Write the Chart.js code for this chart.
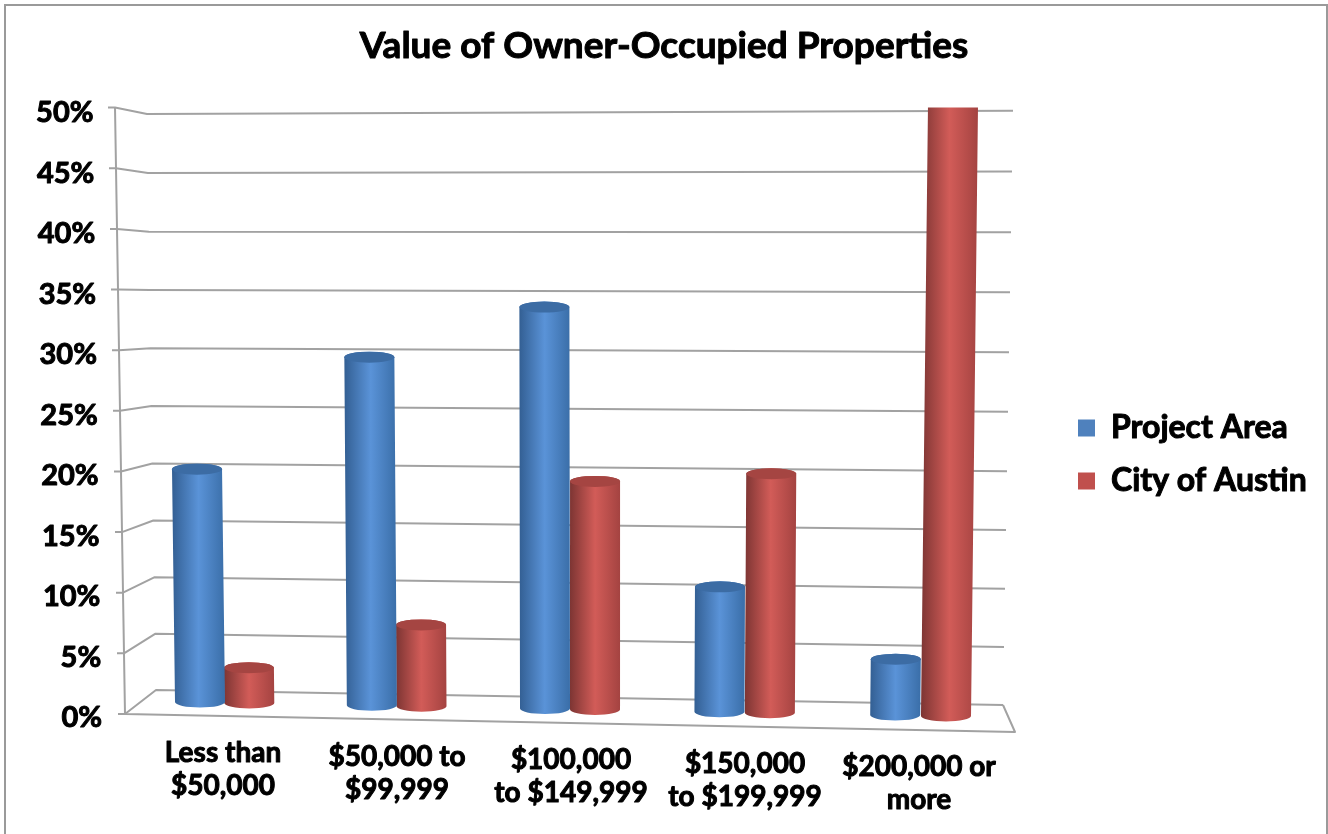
<!DOCTYPE html>
<html><head><meta charset="utf-8">
<style>html,body{margin:0;padding:0;background:#fff;overflow:hidden}canvas{display:block}</style>
<script src="https://cdn.jsdelivr.net/npm/chart.js@4"></script>
</head><body><div style="width:1328px;height:834px"><canvas id="c" width="1328" height="834"></canvas></div>
<script>
const categories = [["Less than","$50,000"],["$50,000 to","$99,999"],["$100,000","to $149,999"],["$150,000","to $199,999"],["$200,000 or","more"]];
const projectArea = [19.2,28.7,33.1,10.3,4.6];
const cityOfAustin = [2.9,6.7,18.8,19.7,50];
const seriesNames = ["Project Area","City of Austin"];
const titleText = "Value of Owner-Occupied Properties";
const FONT = "Lato";

// perspective helpers (all applied on top of the library's scale pixels)
const floorShift = x => (x-840)*0.0187;
const lean = x => -0.0128 + (x-200)*0.0243/745;
const barWarp = x => { const u=(x-200)/745; return -12*u*(1-u); };
let plotArea = null;

const shades = {
  "#4f81bd":["#335f93","#5a93d8","#3a6ea8","#3c6ca4"],
  "#c0504d":["#7d3533","#d25c58","#a44341","#a54542"]
};
const origDraw = Chart.BarElement.prototype.draw;
Chart.BarElement.prototype.draw = function(ctx){
  const col = this.options.backgroundColor;
  const s = shades[col];
  if(!s) return origDraw.call(this,ctx);
  const area = plotArea;
  const w = this.width, ry = 5.5;
  const sh = floorShift(this.x), k = lean(this.x);
  const by = this.base+sh, ty = this.y+sh;
  const bx = this.x-w/2+2+barWarp(this.x), tx = bx+k*(by-ty);
  const atTop = this.y<=area.top+0.5;
  ctx.save();
  ctx.beginPath();ctx.rect(0,area.top,ctx.canvas.width,ctx.canvas.height);ctx.clip();
  const g = ctx.createLinearGradient(Math.min(bx,tx),0,Math.max(bx,tx)+w,0);
  g.addColorStop(0,s[0]);g.addColorStop(0.5,s[1]);g.addColorStop(1,s[2]);
  ctx.fillStyle=g;
  ctx.beginPath();
  ctx.moveTo(tx,ty);
  ctx.lineTo(bx,by);
  ctx.ellipse(bx+w/2,by,w/2,ry,0,Math.PI,0,true);
  ctx.lineTo(tx+w,ty);
  if(atTop){ctx.lineTo(tx+w,area.top-8);ctx.lineTo(tx,area.top-8);}
  else ctx.ellipse(tx+w/2,ty,w/2,ry,0,0,Math.PI,true);
  ctx.closePath();ctx.fill();
  if(!atTop){
    ctx.fillStyle=s[3];
    ctx.beginPath();ctx.ellipse(tx+w/2,ty,w/2,ry,0,0,Math.PI*2);ctx.fill();
  }
  ctx.restore();
};

// heavier glyphs: every label is filled, then outlined in black
const canvas = document.getElementById('c');
const ctx2d = canvas.getContext('2d');
const fillTextOrig = ctx2d.fillText;
ctx2d.fillText = function(t,x,y,m){
  if(m===undefined) fillTextOrig.call(this,t,x,y); else fillTextOrig.call(this,t,x,y,m);
  this.save();this.lineWidth=1;this.lineJoin='round';this.strokeStyle='#000';
  if(m===undefined) this.strokeText(t,x,y); else this.strokeText(t,x,y,m);
  this.restore();
};

const perspective = {
  id:'perspective',
  beforeLayout(chart){
    const lg = chart.legend;
    if(lg && !lg._wrapped){
      const f = lg.fit;
      lg.fit = function(){f.call(this);this.width=1328-1006;};
      lg._wrapped = true;
    }
  },
  afterLayout(chart){
    plotArea = chart.chartArea;
    const lg = chart.legend;
    lg.left = 1078-lg.options.labels.padding; lg.right = 1328;
    lg.top = 391; lg.bottom = 834;
    const xs = chart.scales.x, ys = chart.scales.y;
    xs.getLabelItems().forEach((it,i)=>{
      const x = it.options.translation[0];
      it.options.translation[1] += (x-223)*0.02;
    });
    ys.getLabelItems().forEach(it=>{
      const v = parseFloat(it.label);
      it.options.translation[0] += 110-(ys.left+ys.width-10) - v*0.17;
      it.options.translation[1] += 4+v*0.03;
    });
  },
  beforeDraw(chart){
    const c = chart.ctx;
    c.save();c.strokeStyle='#9a9a9a';c.lineWidth=2;
    c.beginPath();c.moveTo(5,834);c.lineTo(5,5);c.lineTo(1327,5);c.lineTo(1327,834);c.stroke();
    c.restore();
  },
  beforeDatasetsDraw(chart){
    const c = chart.ctx, ys = chart.scales.y;
    const y0 = ys.getPixelForValue(0);
    c.save();c.strokeStyle='#a2a2a2';c.lineWidth=2;c.lineJoin='round';
    const max = ys.max;
    ys.ticks.forEach(t=>{
      const v=t.value, p=ys.getPixelForValue(v), d=y0-p, u=v/max, bow=16*u*(1-u);
      const fx=125-0.2*v, lx=156-0.18*v, ly=y0-24-d*0.95+bow, rx=1003+0.2*v, ry=y0-9-d*0.98+bow;
      c.beginPath();c.moveTo(fx-7,p);c.lineTo(fx,p);c.lineTo(lx,ly);c.lineTo(rx,ry);c.stroke();
    });
    // wall edge and floor front
    const top=ys.getPixelForValue(max);
    c.beginPath();c.moveTo(125-0.2*max,top);c.lineTo(125,y0);c.lineTo(1015,y0+18);c.lineTo(1003,y0-9);c.stroke();
    c.restore();
  }
};

new Chart(canvas,{
  type:'bar',
  data:{labels:categories,datasets:[
    {label:seriesNames[0],data:projectArea,backgroundColor:"#4f81bd",clip:false},
    {label:seriesNames[1],data:cityOfAustin,backgroundColor:"#c0504d",clip:false}
  ]},
  plugins:[perspective],
  options:{
    responsive:false,animation:false,
    layout:{padding:{left:0,right:0,top:0,bottom:0}},
    categoryPercentage:0.575,barPercentage:1,
    plugins:{
      tooltip:{enabled:false},
      title:{display:true,text:titleText,color:'#000',align:'center',
        font:{family:FONT,size:37,weight:'bold'},padding:{top:24,bottom:39.2}},
      legend:{position:'right',align:'start',
        labels:{color:'#000',boxWidth:17,boxHeight:17,padding:21,font:{family:FONT,size:32,weight:'bold'}}}
    },
    scales:{
      x:{grid:{display:false},border:{display:false},
        afterFit:s=>{s.height=120;},
        ticks:{color:'#000',maxRotation:0,minRotation:0,autoSkip:false,padding:15,
          font:{family:FONT,size:28,weight:'bold',lineHeight:1.17}}},
      y:{min:0,max:50,grid:{display:false},border:{display:false},
        afterFit:s=>{s.width=136;},
        ticks:{color:'#000',stepSize:5,padding:10,callback:v=>v+'%',
          font:{family:FONT,size:29,weight:'bold'}}}
    }
  }
});
</script></body></html>
